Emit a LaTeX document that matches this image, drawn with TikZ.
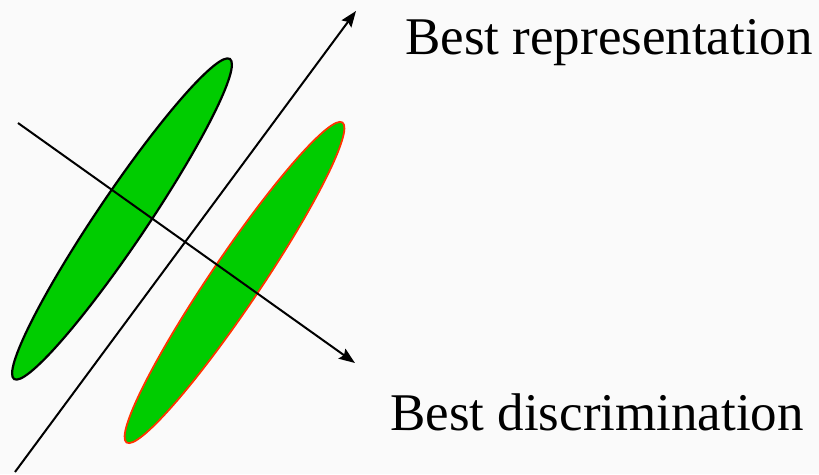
\documentclass[tikz,border=0pt]{standalone}
\usepackage{fontspec}
\setmainfont{Liberation Serif}
\usetikzlibrary{arrows.meta,shapes.geometric}
\definecolor{blobgreen}{RGB}{0,204,0}
\definecolor{blobred}{RGB}{255,51,0}
\definecolor{bgtint}{RGB}{250,250,250}
\tikzset{
  blob/.style={ellipse, fill=blobgreen, rotate=56, minimum width=386pt, minimum height=50pt, inner sep=0pt},
  axisarrow/.style={line width=2pt, -{Stealth[length=16pt,width=12pt,inset=2.5pt]}},
  caption/.style={anchor=base west, inner sep=0pt, font=\fontsize{53}{63}\selectfont}
}
\begin{document}
\begin{tikzpicture}[x=1pt,y=1pt]
\useasboundingbox (0,0) rectangle (819,474);
\fill[bgtint] (0,0) rectangle (819,474);
\node[blob, draw=black, line width=2.2pt] (e1) at (122,255) {};
\node[blob, draw=blobred, line width=1.8pt] (e2) at (234.5,191.5) {};
\coordinate (r0) at (15,2);
\coordinate (r1) at (356,463);
\coordinate (d0) at (18,351);
\coordinate (d1) at (355,111);
\draw[axisarrow] (r0) -- (r1);
\draw[axisarrow] (d0) -- (d1);
\node[caption] (rep) at (405,419) {Best representation};
\node[caption] (dis) at (390,44) {Best discrimination};
\end{tikzpicture}
\end{document}
